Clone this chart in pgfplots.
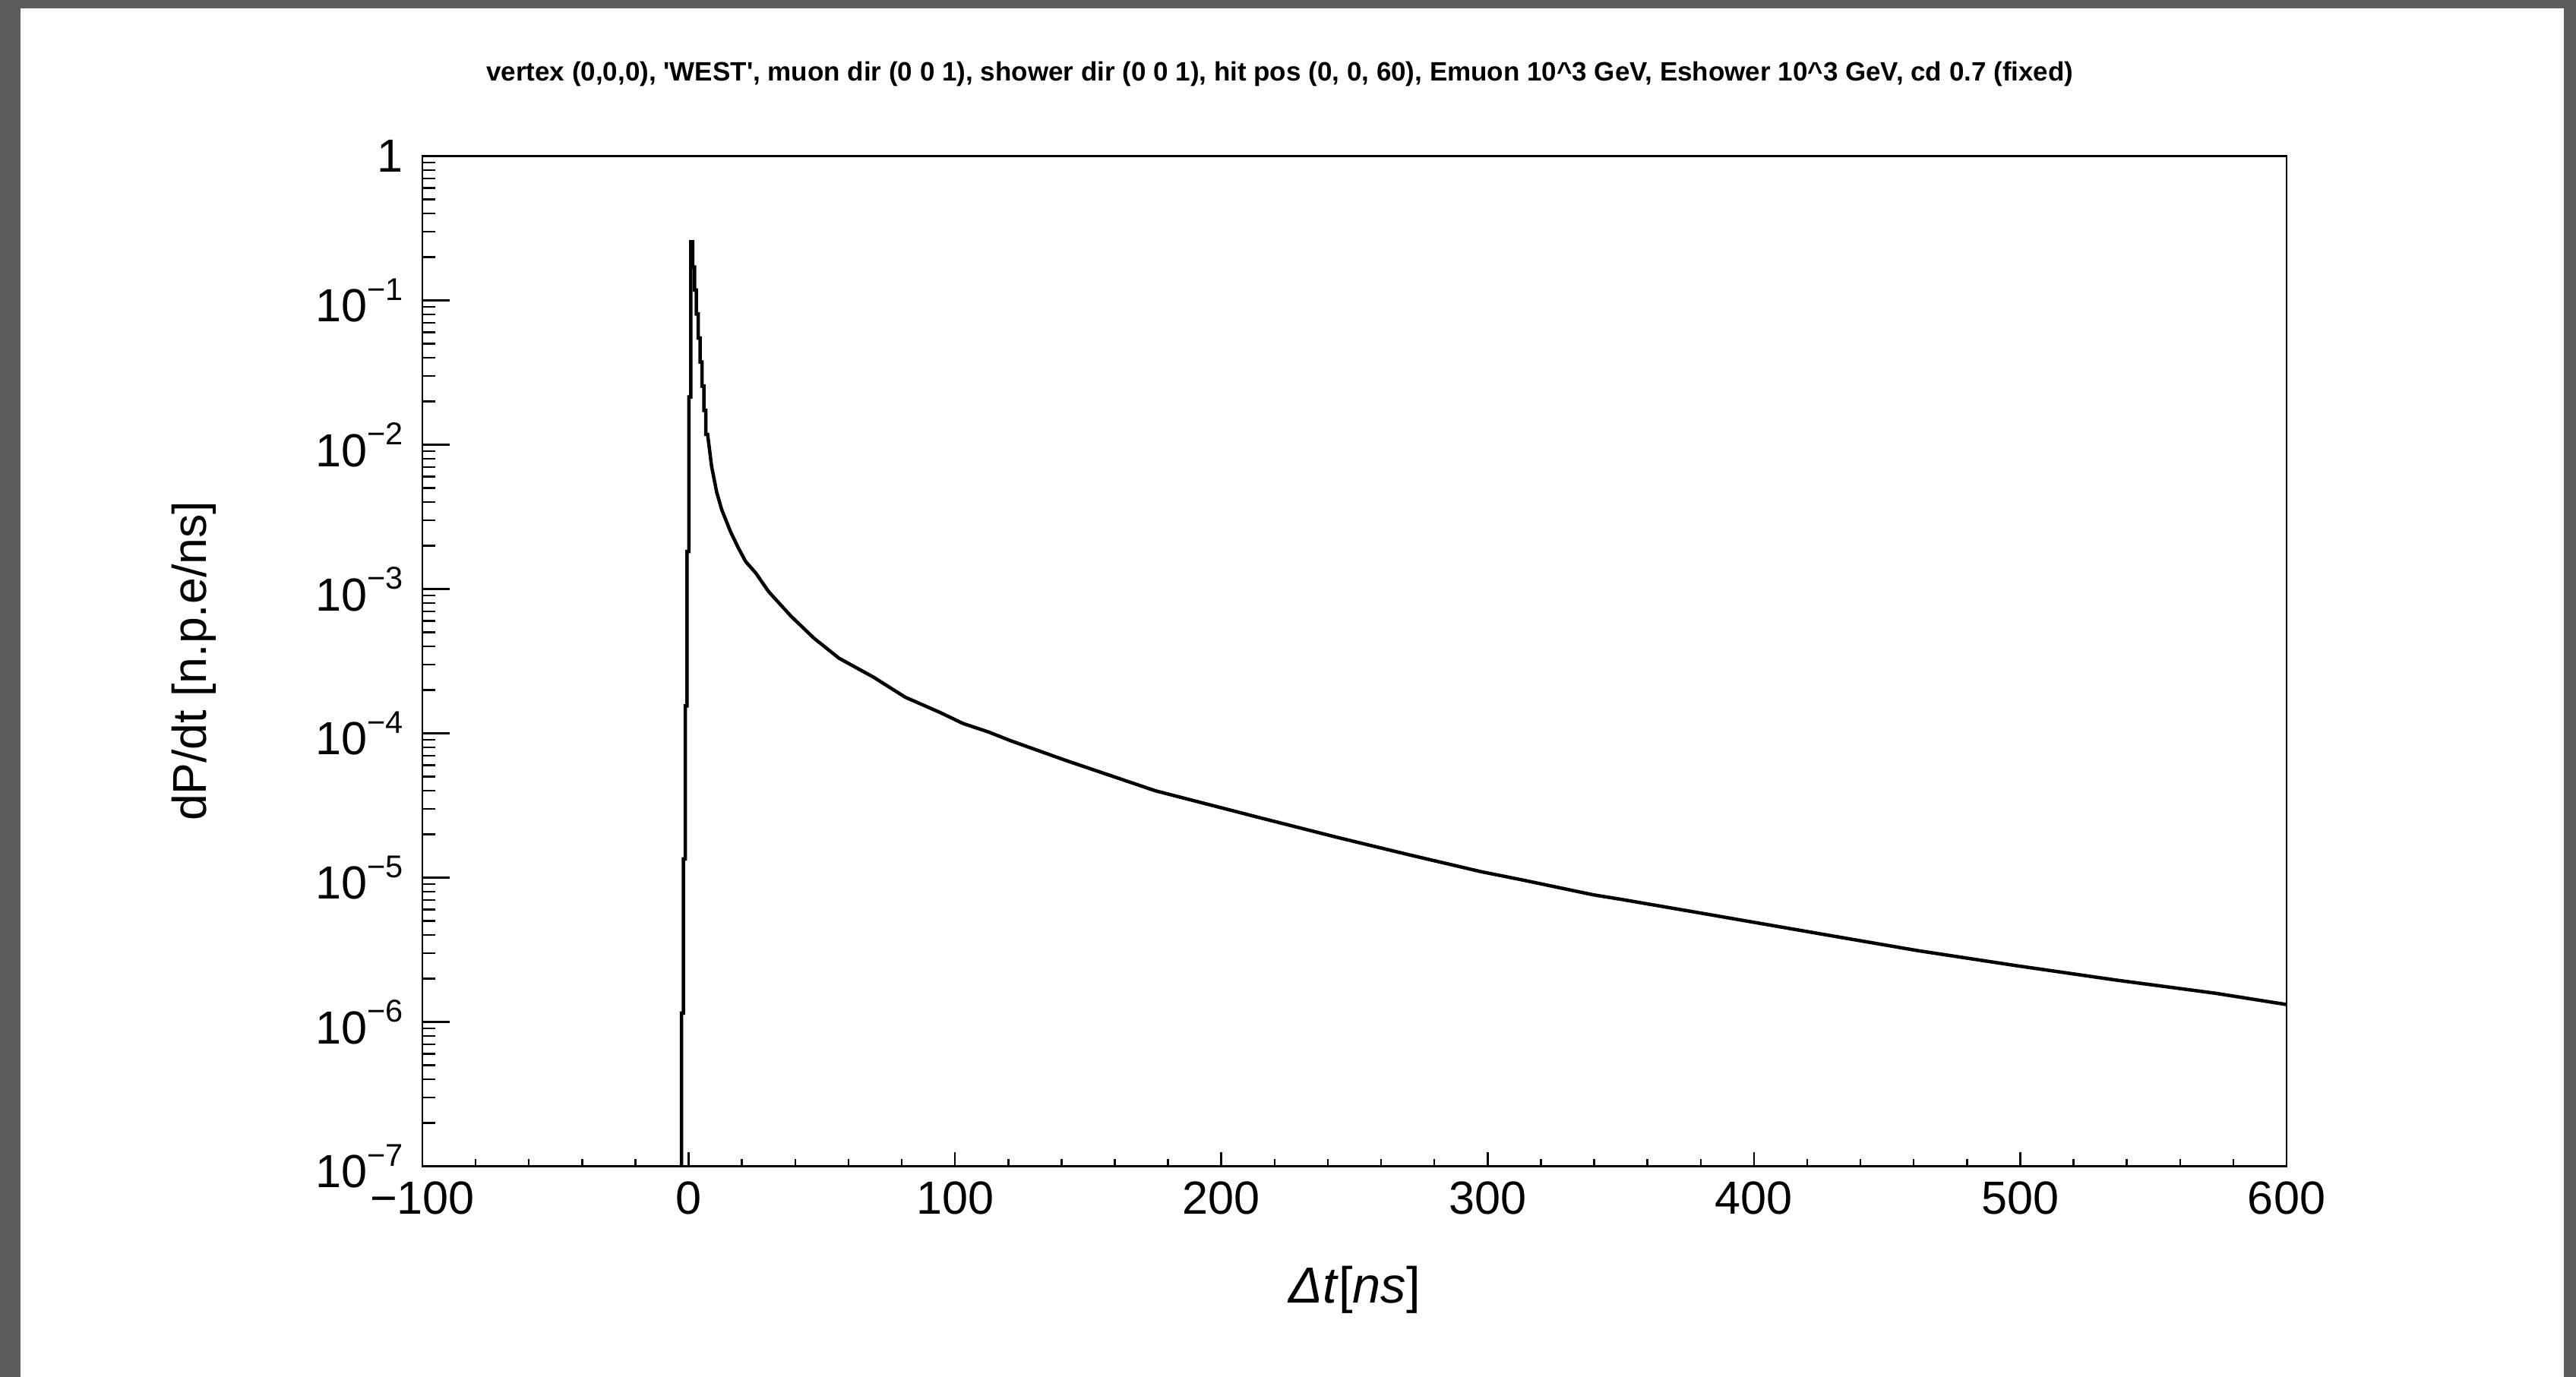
\documentclass[border=0pt]{standalone}
\usepackage{fontspec}
\setmainfont{Liberation Sans}
\usepackage{pgfplots}
\pgfplotsset{compat=1.18}
\definecolor{framegray}{RGB}{92,92,92}
% raised exponent for the decade labels
\newcommand\ex[1]{\raisebox{0.47em}{\fontsize{11.8pt}{12pt}\selectfont #1}}

\begin{document}
\begin{tikzpicture}
\useasboundingbox (0,0) rectangle (339.1mm,181.3mm);
\fill[framegray] (0,0) rectangle (339.1mm,181.3mm);
\fill[white] (2.7mm,0) rectangle (337.5mm,180.2mm);
\begin{axis}[
  at={(55.6mm,27.75mm)}, anchor=south west,
  scale only axis, width=245.4mm, height=133mm,
  xmin=-100, xmax=600,
  ymode=log, log basis y=10, ymin=1e-7, ymax=1,
  axis line style={line width=0.25mm, black},
  xtick={-100,0,100,200,300,400,500,600},
  xticklabels={−100,0,100,200,300,400,500,600},
  minor x tick num=4,
  ytick={1e-7,1e-6,1e-5,1e-4,1e-3,1e-2,1e-1,1},
  yticklabels={10\ex{−7},10\ex{−6},10\ex{−5},10\ex{−4},10\ex{−3},10\ex{−2},10\ex{−1},1},
  minor ytick={2e-7,3e-7,4e-7,5e-7,6e-7,7e-7,8e-7,9e-7,
               2e-6,3e-6,4e-6,5e-6,6e-6,7e-6,8e-6,9e-6,
               2e-5,3e-5,4e-5,5e-5,6e-5,7e-5,8e-5,9e-5,
               2e-4,3e-4,4e-4,5e-4,6e-4,7e-4,8e-4,9e-4,
               2e-3,3e-3,4e-3,5e-3,6e-3,7e-3,8e-3,9e-3,
               2e-2,3e-2,4e-2,5e-2,6e-2,7e-2,8e-2,9e-2,
               2e-1,3e-1,4e-1,5e-1,6e-1,7e-1,8e-1,9e-1},
  xtick pos=bottom, ytick pos=left, tick align=inside,
  every tick/.style={black, line width=0.25mm},
  xtick style={/pgfplots/major tick length=1.9mm, /pgfplots/minor tick length=1.0mm},
  ytick style={/pgfplots/major tick length=3.6mm, /pgfplots/minor tick length=1.7mm},
  tick label style={font=\fontsize{17.4pt}{20pt}\selectfont},
  xticklabel style={anchor=north, inner sep=0pt, yshift=-2.0mm},
  yticklabel style={anchor=east, inner sep=0pt, xshift=-2.45mm},
  title={\resizebox{208.9mm}{!}{\bfseries vertex (0,0,0), \textquotesingle WEST\textquotesingle, muon dir (0 0 1), shower dir (0 0 1), hit pos (0, 0, 60), Emuon 10\textasciicircum 3 GeV, Eshower 10\textasciicircum 3 GeV, cd 0.7 (fixed)}},
  title style={at={(axis description cs:0.460,1.0651)}, anchor=center, inner sep=0pt},
  xlabel={\textit{Δt}[\textit{ns}]},
  xlabel style={at={(axis description cs:0.5,-0.1222)}, anchor=center, inner sep=0pt,
                font=\fontsize{19pt}{22pt}\selectfont},
  ylabel={dP/dt [n.p.e/ns]},
  ylabel style={at={(axis description cs:-0.1227,0.5)}, anchor=center, inner sep=0pt,
                rotate=0, font=\fontsize{17.8pt}{21pt}\selectfont},
]
% histogram: binned steps around the prompt peak, then the slow tail
\addplot[black, line width=0.45mm] table {
t      dPdt
-2.7   1e-9
-2.7   1.15e-6
-2.0   1.15e-6
-2.0   1.35e-5
-1.3   1.35e-5
-1.3   1.55e-4
-0.6   1.55e-4
-0.6   1.82e-3
0.1    1.82e-3
0.1    2.14e-2
0.8    2.14e-2
0.8    0.255
1.5    0.255
1.5    0.170
2.2    0.170
2.2    0.118
2.9    0.118
2.9    0.0805
3.6    0.0805
3.6    0.0548
4.3    0.0548
4.3    0.0374
5.0    0.0374
5.0    0.0255
5.7    0.0255
5.7    0.0173
6.4    0.0173
6.4    0.0118
7.1    0.0118
8.6    7.1e-3
10.5   4.7e-3
12.4   3.55e-3
15.7   2.5e-3
18.5   1.95e-3
21.4   1.55e-3
25.2   1.29e-3
30.0   9.6e-4
38.5   6.46e-4
47.0   4.57e-4
56.5   3.31e-4
69.4   2.45e-4
81.3   1.78e-4
94.2   1.40e-4
103.0  1.17e-4
112.7  1.02e-4
120.8  8.9e-5
141.5  6.5e-5
175.2  4.0e-5
214.5  2.6e-5
243.6  1.9e-5
269.8  1.45e-5
297.5  1.10e-5
312.3  9.7e-6
339.7  7.6e-6
349.6  7.1e-6
386.9  5.4e-6
424.2  4.1e-6
461.5  3.12e-6
498.8  2.45e-6
536.0  1.95e-6
573.3  1.58e-6
600.0  1.32e-6
};
\end{axis}
\end{tikzpicture}
\end{document}
